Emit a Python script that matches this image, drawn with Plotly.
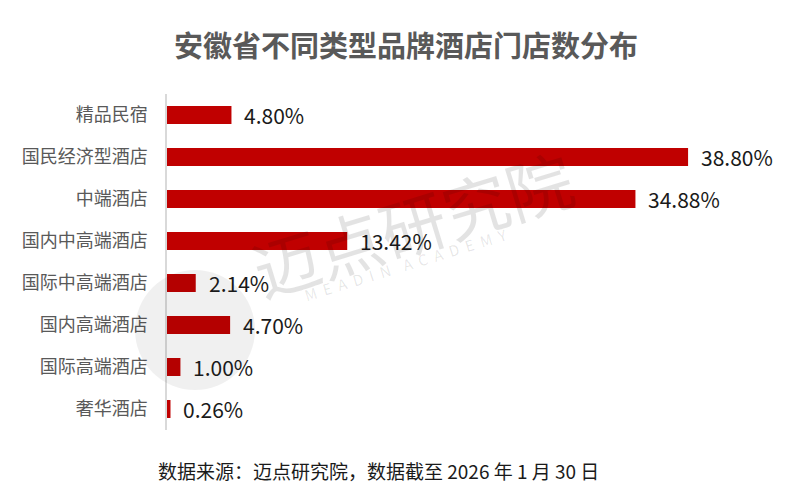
import plotly.graph_objects as go

categories = ["精品民宿", "国民经济型酒店", "中端酒店", "国内中高端酒店",
              "国际中高端酒店", "国内高端酒店", "国际高端酒店", "奢华酒店"]
shares = [4.80, 38.80, 34.88, 13.42, 2.14, 4.70, 1.00, 0.26]
value_labels = ["4.80%", "38.80%", "34.88%", "13.42%", "2.14%", "4.70%", "1.00%", "0.26%"]

title_text = "安徽省不同类型品牌酒店门店数分布"
source_text = "数据来源：迈点研究院，数据截至 2026 年 1 月 30 日"
wm_cn = "迈点研究院"
wm_en = "\u00a0\u00a0".join(list("MEADIN")) + "\u00a0\u00a0\u00a0\u00a0" + "\u00a0\u00a0".join(list("ACADEMY"))

FONT = "Noto Sans CJK SC, Noto Sans, sans-serif"
RED = "#C00000"

W, H = 800, 488
L, R, T, B = 167, 20, 94, 58
pw, ph = W - L - R, H - T - B


def px_x(p):
    return (p - L) / pw


def px_y(p):
    return (H - B - p) / ph


fig = go.Figure()
fig.add_trace(go.Bar(
    x=shares, y=categories, orientation="h",
    marker=dict(color=RED, line=dict(width=0)),
    hoverinfo="skip",
))

annotations = []
for c, v, lab in zip(categories, shares, value_labels):
    annotations.append(dict(
        x=v, y=c, xref="x", yref="y", text=lab, showarrow=False,
        xanchor="left", yanchor="middle", xshift=11,
        font=dict(family=FONT, size=21, color="#1a1a1a"),
    ))

# watermark
annotations.append(dict(
    x=px_x(412), y=px_y(222), xref="paper", yref="paper", text=wm_cn,
    showarrow=False, textangle=-17, font=dict(family=FONT, size=66, color="rgba(0,0,0,0.11)"),
    xanchor="center", yanchor="middle",
))
annotations.append(dict(
    x=px_x(405), y=px_y(264), xref="paper", yref="paper", text=wm_en,
    showarrow=False, textangle=-17, font=dict(family=FONT, size=15, color="rgba(0,0,0,0.10)"),
    xanchor="center", yanchor="middle",
))
# footer
annotations.append(dict(
    x=px_x(378), y=px_y(470), xref="paper", yref="paper", text=source_text,
    showarrow=False, xanchor="center", yanchor="middle",
    font=dict(family=FONT, size=19, color="#1a1a1a"),
))

shapes = [dict(
    type="circle", xref="paper", yref="paper",
    x0=px_x(135), x1=px_x(255), y0=px_y(270), y1=px_y(390),
    fillcolor="rgba(0,0,0,0.06)", line=dict(width=0), layer="above",
)]

fig.update_layout(
    width=W, height=H,
    margin=dict(l=L, r=R, t=T, b=B, pad=0, autoexpand=False),
    paper_bgcolor="white", plot_bgcolor="white",
    showlegend=False,
    bargap=0.57,
    title=dict(text="<b>" + title_text + "</b>", x=406 / W, xanchor="center",
               y=1 - 47 / H, yanchor="middle", yref="container",
               font=dict(family=FONT, size=29, color="#595959")),
    xaxis=dict(range=[0, pw / 13.43], visible=False, fixedrange=True),
    yaxis=dict(autorange="reversed", showline=True, linecolor="#d9d9d9", linewidth=1.5,
               showgrid=False, zeroline=False, ticks="", ticklabelstandoff=14, automargin=False,
               tickfont=dict(family=FONT, size=18, color="#595959"), fixedrange=True),
    annotations=annotations,
    shapes=shapes,
)

fig.write_html("out.html", config={"displayModeBar": False},
               post_script="document.body.style.margin='0';")
